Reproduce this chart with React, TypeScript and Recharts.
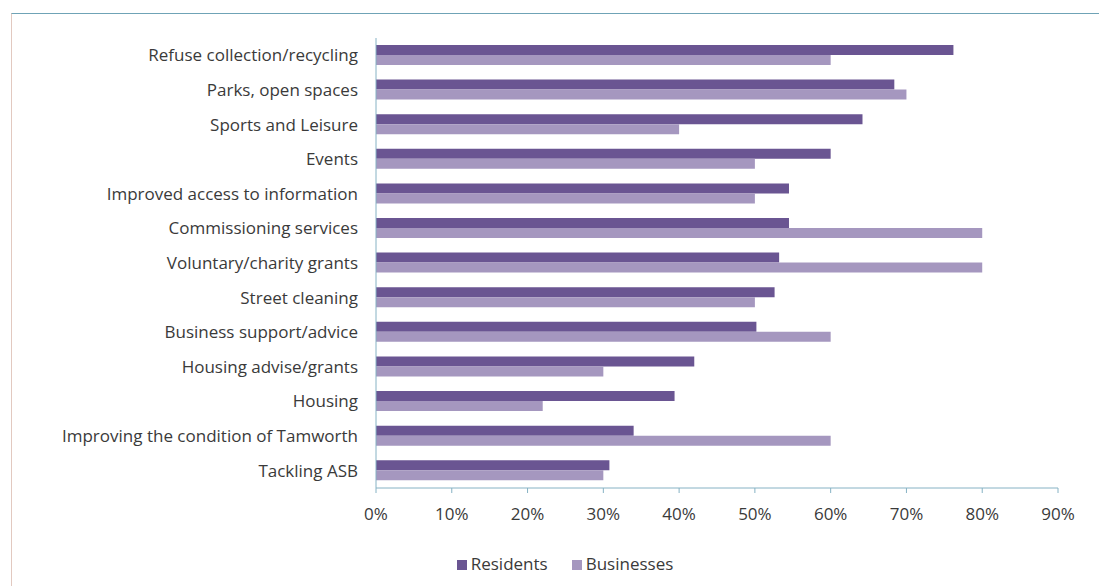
import { BarChart, Bar, XAxis, YAxis, Legend } from 'recharts';

const categories = [
  'Refuse collection/recycling',
  'Parks, open spaces',
  'Sports and Leisure',
  'Events',
  'Improved access to information',
  'Commissioning services ',
  'Voluntary/charity grants',
  'Street cleaning',
  'Business support/advice',
  'Housing advise/grants',
  'Housing',
  'Improving the condition of Tamworth',
  'Tackling ASB',
];

const residents = [76.2, 68.4, 64.2, 60, 54.5, 54.5, 53.2, 52.6, 50.2, 42, 39.4, 34, 30.8];
const businesses = [60, 70, 40, 50, 50, 80, 80, 50, 60, 30, 22, 60, 30];

const xTicks = [0, 10, 20, 30, 40, 50, 60, 70, 80, 90];

const seriesOrder = ['Residents', 'Businesses'];

const data = categories.map((name, i) => ({
  name,
  residents: residents[i],
  businesses: businesses[i],
}));

const axisColor = '#86b2c4';
const textColor = '#3a3a3a';
const font = '"Open Sans", sans-serif';

export default function App() {
  return (
    <div style={{ paddingTop: 5, paddingLeft: 3 }}>
      <div
        style={{
          width: 1090,
          height: 572,
          borderTop: '1px solid #6fa3b6',
          borderLeft: '1px solid #e2c9c0',
          fontFamily: font,
        }}
      >
        <BarChart
          width={1090}
          height={572}
          data={data}
          layout="vertical"
          margin={{ top: 24, right: 44, bottom: 18, left: 0 }}
          barCategoryGap="20%"
          barGap={0}
        >
          <XAxis
            type="number"
            domain={[0, 90]}
            ticks={xTicks}
            tickFormatter={(v) => `${v}%`}
            stroke={axisColor}
            tick={{ fill: textColor, fontSize: 17, fontFamily: font }}
            tickSize={5}
            tickMargin={15}
            height={40}
          />
          <YAxis
            type="category"
            dataKey="name"
            width={364}
            stroke={axisColor}
            tickLine={false}
            tickSize={8}
            tickMargin={10}
            interval={0}
            tick={{ fill: textColor, fontSize: 17, fontFamily: font }}
          />
          <Legend
            verticalAlign="bottom"
            height={40}
            iconType="square"
            iconSize={10}
            itemSorter={(item: any) => seriesOrder.indexOf(item.value)}
            wrapperStyle={{ top: 538, left: 0, width: 1130, fontSize: 17, fontFamily: font }}
            formatter={(value) => (
              <span style={{ color: textColor, marginRight: 14 }}>{value}</span>
            )}
          />
          <Bar dataKey="residents" name="Residents" fill="#6a5592" isAnimationActive={false} />
          <Bar dataKey="businesses" name="Businesses" fill="#a597bf" isAnimationActive={false} />
        </BarChart>
      </div>
    </div>
  );
}
